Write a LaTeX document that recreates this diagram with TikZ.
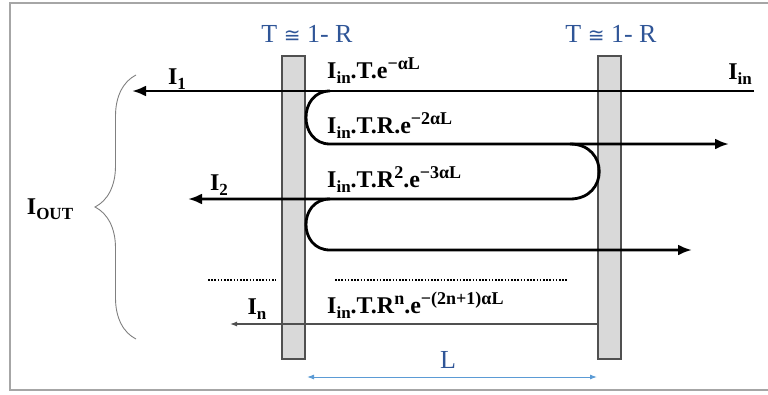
\documentclass[tikz,border=0pt]{standalone}
\usepackage{fontspec}
\setmainfont{Liberation Serif}
\newfontfamily\congfont{DejaVu Sans}
\usepackage{xcolor}
\usetikzlibrary{arrows.meta,decorations.pathreplacing}
\definecolor{mirrorgray}{RGB}{217,217,217}
\definecolor{edgegray}{RGB}{80,80,80}
\definecolor{framegray}{RGB}{166,166,166}
\definecolor{labelblue}{RGB}{47,85,151}
\definecolor{lightblue}{RGB}{91,155,213}
\newcommand{\upx}[1]{\raisebox{0.36em}{\fontsize{18}{18}\selectfont #1}}
\newcommand{\dnx}[1]{\raisebox{-0.22em}{\fontsize{17}{17}\selectfont #1}}

\begin{document}
\begin{tikzpicture}[x=1pt,y=-1pt,
  mirror/.style={draw=edgegray,fill=mirrorgray,line width=1.2pt},
  beam/.style={line width=2.8pt,-{Latex[length=14pt,width=11pt]}},
  thinbeam/.style={draw=edgegray,line width=1.2pt,-{Latex[length=7pt,width=5pt]}},
  lbl/.style={font=\fontsize{24}{28}\selectfont\bfseries,inner sep=0pt},
  blue/.style={font=\fontsize{26}{30}\selectfont,text=labelblue,inner sep=0pt}]
\useasboundingbox (0,0) rectangle (768,394);
\draw[framegray,line width=2.5pt] (10,3) rectangle (780,390);
% the two mirrors
\draw[mirror] (282,56) rectangle (305,359);
\draw[mirror] (598,56) rectangle (621,359);
\node[blue,anchor=base] (t1) at (307,42) {T {\congfont\fontsize{20}{24}\selectfont ≅} 1- R};
\node[blue,anchor=base] (t2) at (611,42) {T {\congfont\fontsize{20}{24}\selectfont ≅} 1- R};
% beam coordinates
\coordinate (in) at (754,91);
\coordinate (o1) at (132,91);
\coordinate (a1) at (330,91);
\coordinate (a2) at (330,144);
\coordinate (b1) at (570,144);
\coordinate (b2) at (570,199);
\coordinate (c1) at (330,199);
\coordinate (c2) at (330,250);
\coordinate (f2) at (729,144);
\coordinate (o2) at (188,199);
\coordinate (f4) at (692,250);
\coordinate (on) at (230,324);
\coordinate (sn) at (598,324);
\draw[beam] (in) -- (o1);
\draw[beam] (a1) .. controls (298,91) and (298,144) .. (a2) -- (f2);
\draw[beam] (b1) .. controls (609,144) and (609,199) .. (b2) -- (o2);
\draw[beam] (c1) .. controls (298,199) and (298,250) .. (c2) -- (f4);
\draw[thinbeam] (sn) -- (on);
% dots
\draw[line width=1.6pt,dash pattern=on 1.6pt off 1.6pt] (208,280) -- (276,280);
\draw[line width=1.6pt,dash pattern=on 1.6pt off 1.6pt] (335,280) -- (567,280);
% labels
\node[lbl,anchor=base] (i1) at (177,84) {I\dnx{1}};
\node[lbl,anchor=base] (iin) at (740,79) {I\dnx{in}};
\node[lbl,anchor=base] (i2) at (219,190) {I\dnx{2}};
\node[lbl,anchor=base] (in2) at (257,314) {I\dnx{n}};
\node[lbl,anchor=base west] (e1) at (327,78) {I\dnx{in}.T.e\upx{−αL}};
\node[lbl,anchor=base west] (e2) at (327,133) {I\dnx{in}.T.R.e\upx{−2αL}};
\node[lbl,anchor=base west] (e3) at (327,187) {I\dnx{in}.T.R\upx{2}.e\upx{−3αL}};
\node[lbl,anchor=base west] (en) at (327,313) {I\dnx{in}.T.R\upx{n}.e\upx{−(2n+1)αL}};
\node[lbl,anchor=base] (iout) at (50,214) {I\dnx{OUT}};
% brace and cavity length
\draw[gray,line width=0.9pt,decorate,decoration={brace,amplitude=41pt}] (136,339) -- (136,75);
\draw[lightblue,line width=1pt,{Latex[length=7pt,width=5pt]}-{Latex[length=7pt,width=5pt]}] (307,377) -- (597,377);
\node[blue,anchor=base] (len) at (448,368) {L};
\end{tikzpicture}
\end{document}
